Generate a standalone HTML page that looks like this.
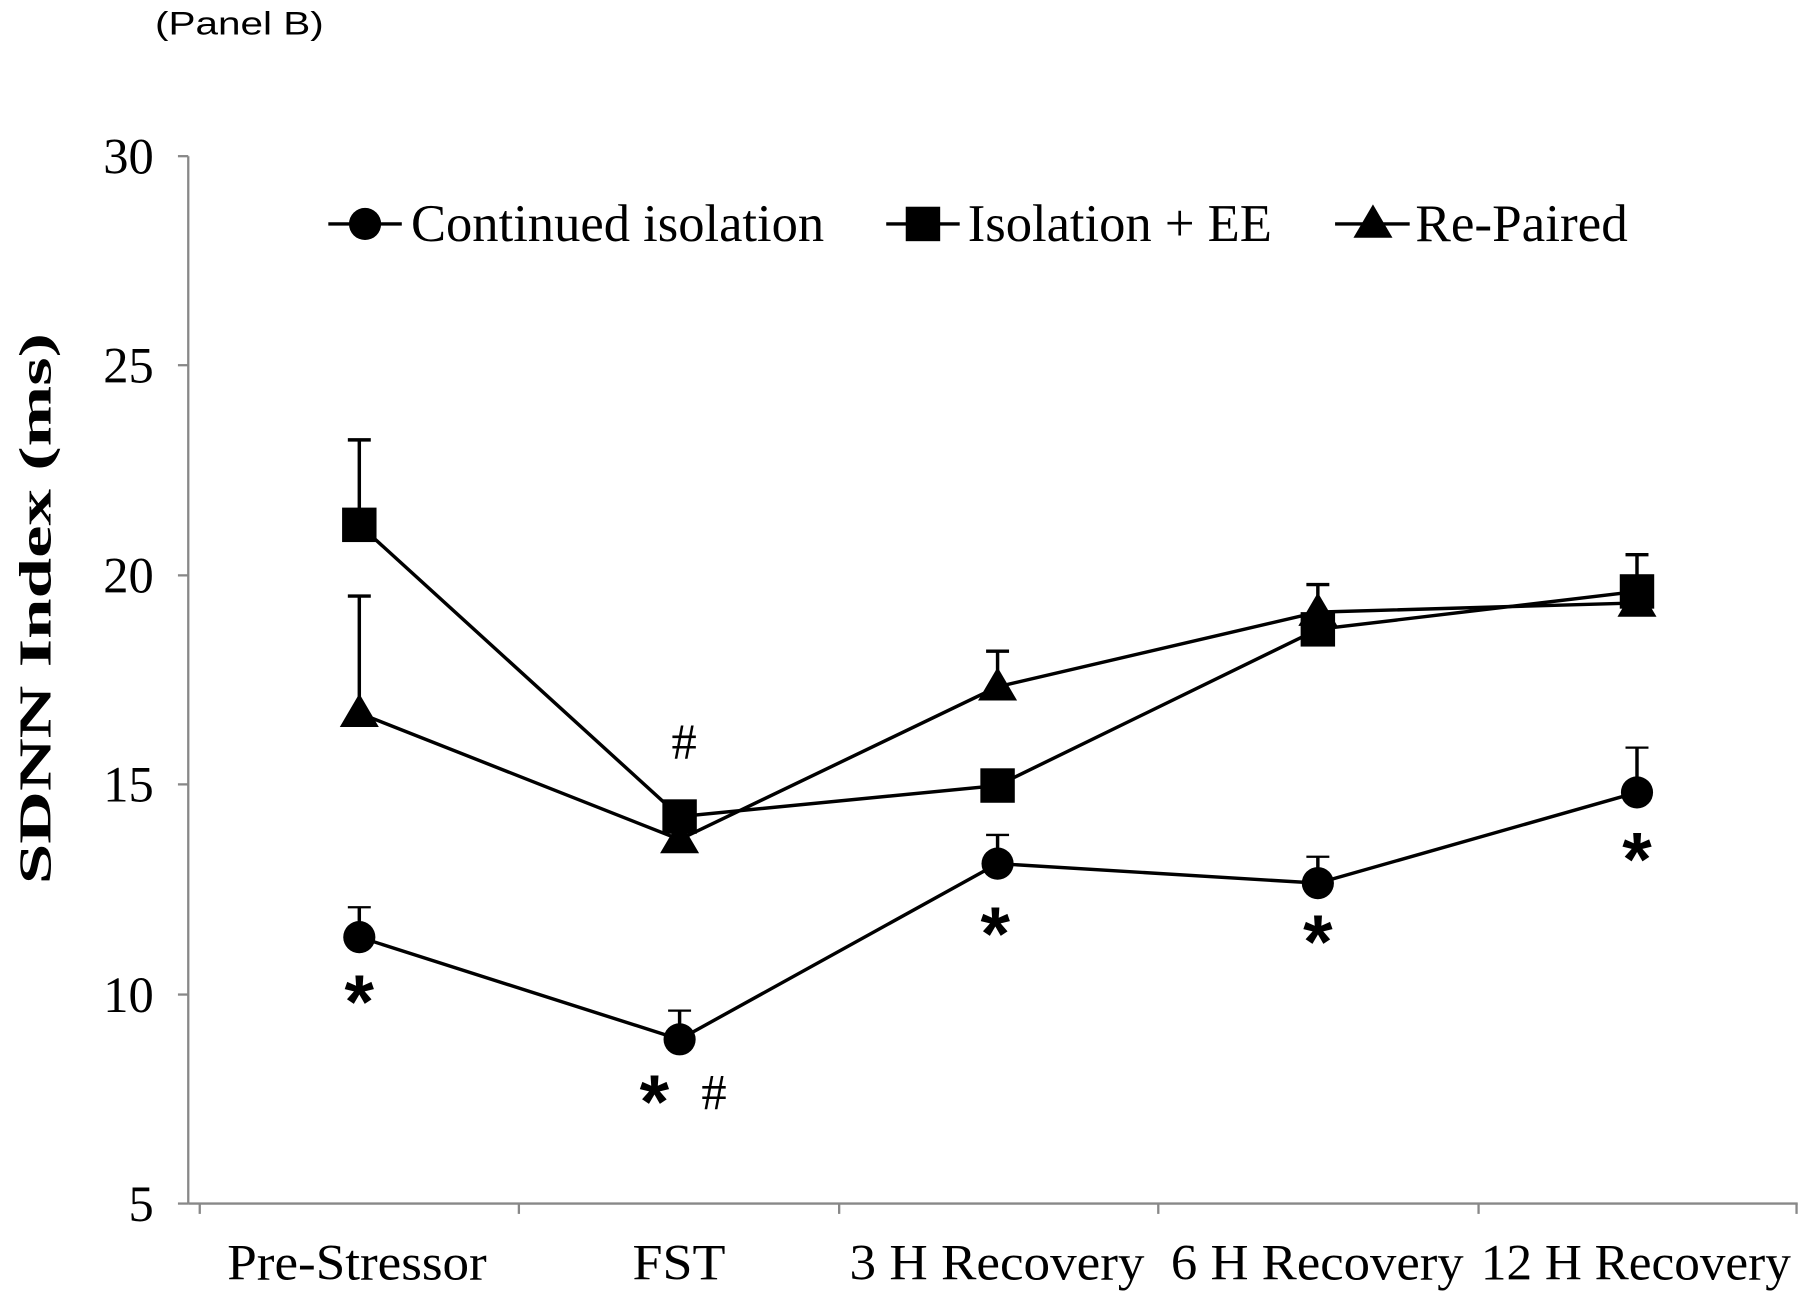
<!DOCTYPE html>
<html><head><style>body{margin:0;background:#fff}svg{display:block}</style></head><body>
<svg width="1800" height="1292" viewBox="0 0 1568 1125" preserveAspectRatio="none" xmlns="http://www.w3.org/2000/svg">
<text x="135" y="30" font-family="Liberation Sans, sans-serif" font-size="28" textLength="147" lengthAdjust="spacingAndGlyphs">(Panel B)</text>
<g stroke="#888" stroke-width="2" fill="none">
<line x1="164" y1="136" x2="164" y2="1048"/>
<line x1="164" y1="1048" x2="1566" y2="1048"/>
<line x1="155" y1="136" x2="164" y2="136"/><line x1="155" y1="318" x2="164" y2="318"/><line x1="155" y1="501" x2="164" y2="501"/><line x1="155" y1="683" x2="164" y2="683"/><line x1="155" y1="866" x2="164" y2="866"/><line x1="155" y1="1048" x2="164" y2="1048"/>
<line x1="174" y1="1048" x2="174" y2="1057"/><line x1="452" y1="1048" x2="452" y2="1057"/><line x1="731" y1="1048" x2="731" y2="1057"/><line x1="1009" y1="1048" x2="1009" y2="1057"/><line x1="1288" y1="1048" x2="1288" y2="1057"/><line x1="1565" y1="1048" x2="1565" y2="1057"/>
</g>
<g font-family="Liberation Serif, serif" font-size="44" text-anchor="end">
<text x="134" y="151">30</text><text x="134" y="333">25</text><text x="134" y="516">20</text><text x="134" y="698">15</text><text x="134" y="881">10</text><text x="134" y="1063">5</text>
</g>
<g font-family="Liberation Serif, serif" font-size="44" lengthAdjust="spacingAndGlyphs">
<text x="198" y="1114" textLength="226" lengthAdjust="spacingAndGlyphs">Pre-Stressor</text>
<text x="551" y="1114" textLength="81" lengthAdjust="spacingAndGlyphs">FST</text>
<text x="740" y="1114" textLength="257" lengthAdjust="spacingAndGlyphs">3 H Recovery</text>
<text x="1020" y="1114" textLength="255" lengthAdjust="spacingAndGlyphs">6 H Recovery</text>
<text x="1290" y="1114" textLength="270" lengthAdjust="spacingAndGlyphs">12 H Recovery</text>
</g>
<text transform="translate(44,530) rotate(-90)" text-anchor="middle" font-family="Liberation Serif, serif" font-weight="bold" font-size="40" textLength="480" lengthAdjust="spacingAndGlyphs">SDNN Index (ms)</text>
<g stroke="#000" stroke-width="3" fill="none">
<path d="M313 790V816M592 880V905M869 727V752M1148 746V769M1426 651V690"/>
<path d="M303 790h20M582 880h20M859 727h20M1138 746h20M1416 651h20" stroke-width="2"/>
<path d="M313 383V457M1426 483V515M303 383h20M1416 483h20"/>
<path d="M313 519V621M869 567V598M1148 509V533M303 519h20M859 567h20M1138 509h20"/>
<polyline points="313,816 592,905 869,752 1148,769 1426,690"/>
<polyline points="313,457 592,711 869,684 1148,548 1426,515"/>
<polyline points="313,621 592,731 869,598 1148,533 1426,525"/>
</g>
<g fill="#000">
<circle cx="313" cy="816" r="14"/><circle cx="592" cy="905" r="14"/><circle cx="869" cy="752" r="14"/><circle cx="1148" cy="769" r="14"/><circle cx="1426" cy="690" r="14"/>
<rect x="298" y="442" width="30" height="30"/><rect x="577" y="696" width="30" height="30"/><rect x="854" y="669" width="30" height="30"/><rect x="1133" y="533" width="30" height="30"/><rect x="1411" y="500" width="30" height="30"/>
<polygon points="313,604 330,633 296,633"/><polygon points="592,714 609,743 575,743"/><polygon points="869,581 886,610 852,610"/><polygon points="1148,516 1165,545 1131,545"/><polygon points="1426,508 1443,537 1409,537"/>
</g>
<g font-family="Liberation Sans, sans-serif" font-weight="bold" font-size="66" text-anchor="middle">
<text x="313" y="895">*</text><text x="570" y="982">*</text><text x="867" y="836">*</text><text x="1148" y="843">*</text><text x="1426" y="771">*</text>
</g>
<g font-family="Liberation Serif, serif" font-size="44" text-anchor="middle">
<text x="596" y="661">#</text><text x="622" y="966">#</text>
</g>
<g stroke="#000" stroke-width="3"><line x1="286" y1="195" x2="350" y2="195"/><line x1="772" y1="195" x2="836" y2="195"/><line x1="1163" y1="195" x2="1228" y2="195"/></g>
<circle cx="318" cy="195" r="14"/><rect x="789" y="180" width="30" height="30"/><polygon points="1196,178 1213,207 1179,207"/>
<g font-family="Liberation Serif, serif" font-size="46">
<text x="358" y="210" textLength="360" lengthAdjust="spacingAndGlyphs">Continued isolation</text>
<text x="843" y="210" textLength="265" lengthAdjust="spacingAndGlyphs">Isolation + EE</text>
<text x="1233" y="210" textLength="185" lengthAdjust="spacingAndGlyphs">Re-Paired</text>
</g>
</svg>
</body></html>
